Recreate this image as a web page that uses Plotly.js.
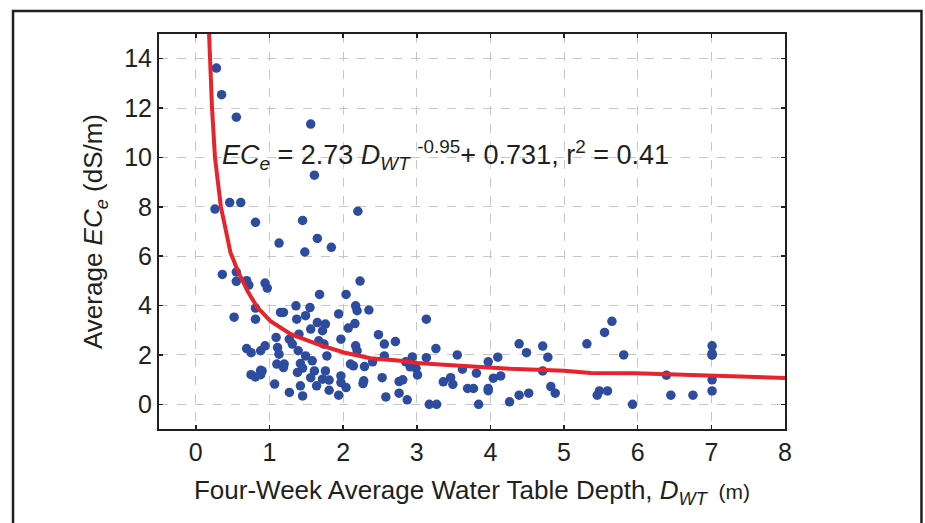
<!DOCTYPE html>
<html>
<head>
<meta charset="utf-8">
<script src="https://cdn.plot.ly/plotly-3.0.1.min.js"></script>
<style>
  html, body { margin: 0; padding: 0; background: #ffffff; }
  #graph { width: 925px; height: 523px; }
</style>
</head>
<body>
<div id="graph"></div>
<script>
"use strict";

// --- measured points (water table depth, m / ECe, dS/m) ---
const derinlikX = [
    0.28, 0.35, 0.55, 1.56, 1.61, 0.26, 0.46, 0.61, 0.81, 1.45, 2.20,
    1.13, 1.65, 1.48, 1.84,
    0.36, 0.55, 0.55, 0.69, 0.72, 0.94, 0.97, 2.23, 1.68, 2.04,
    0.52, 0.81, 0.81,
    1.36, 1.15, 1.19, 1.55, 1.49, 1.37, 1.65, 1.76, 1.56, 1.72, 1.94, 2.17, 2.19, 2.35, 2.16, 2.07, 2.48, 2.56,
    1.09, 1.27, 1.40, 1.31, 0.94, 1.11, 1.13, 1.39, 1.49, 1.67, 1.74, 1.97, 2.17, 2.19, 1.78,
    1.10, 1.20, 1.19, 1.42, 1.45, 1.58, 2.10, 2.14, 2.29, 2.56, 0.90, 1.38, 1.61, 1.56, 1.72, 1.81,
    1.97, 1.97, 1.76, 2.28, 1.07, 1.42, 1.64, 1.27, 1.45, 1.81, 1.94, 2.04, 2.58,
    0.69, 0.75, 0.88, 0.75, 0.81, 0.88, 0.88, 2.53, 2.27,
    3.13, 2.71, 3.26, 3.55, 4.39, 4.49, 4.71, 4.78, 5.31, 2.40, 2.85, 2.94, 2.91, 2.99, 3.01, 3.13,
    3.62, 3.81, 3.97, 4.10, 4.04, 4.14, 4.71, 2.76, 2.81, 2.76, 2.87, 3.36, 3.46, 3.49, 3.69, 3.77,
    3.97, 3.97, 3.17, 3.27, 3.84, 4.26, 4.39, 4.52, 4.82, 4.88,
    5.55, 5.65, 5.81, 5.93, 5.45, 5.48, 5.59, 6.39, 6.45, 6.75, 7.01, 7.01, 7.01, 7.01, 7.01
];
const ecDegerY = [
    13.62, 12.54, 11.63, 11.35, 9.28, 7.91, 8.17, 8.17, 7.37, 7.45, 7.82,
    6.53, 6.72, 6.17, 6.36,
    5.26, 5.36, 4.98, 5.01, 4.83, 4.91, 4.71, 4.99, 4.45, 4.45,
    3.53, 3.90, 3.45,
    3.99, 3.72, 3.72, 3.92, 3.59, 3.45, 3.31, 3.25, 3.05, 2.98, 3.66, 3.99, 3.79, 3.82, 3.27, 3.09, 2.82, 2.44,
    2.71, 2.64, 2.84, 2.44, 2.37, 2.30, 2.03, 2.17, 1.96, 2.57, 2.44, 2.64, 2.37, 2.17, 1.96,
    1.63, 1.63, 1.49, 1.65, 1.47, 1.76, 1.63, 1.56, 1.53, 1.96, 1.35, 1.29, 1.35, 1.08, 1.02, 0.98,
    1.15, 0.88, 1.35, 0.95, 0.82, 0.75, 0.75, 0.48, 0.34, 0.57, 0.37, 0.68, 0.30,
    2.26, 2.09, 2.17, 1.20, 1.11, 1.38, 1.20, 1.08, 0.84,
    3.45, 2.54, 2.26, 2.00, 2.45, 2.09, 2.36, 1.91, 2.45, 1.72, 1.72, 1.92, 1.52, 1.46, 1.19, 1.89,
    1.42, 1.26, 1.72, 1.91, 1.06, 1.15, 1.35, 0.92, 0.99, 0.45, 0.18, 0.91, 1.08, 0.81, 0.64, 0.64,
    0.64, 0.55, 0.00, 0.00, 0.00, 0.10, 0.37, 0.45, 0.72, 0.45,
    2.91, 3.36, 2.00, 0.00, 0.37, 0.54, 0.54, 1.18, 0.37, 0.37, 2.37, 2.06, 1.99, 0.99, 0.54
];

// --- fitted curve ---
const egriX = [0.18, 0.19, 0.22, 0.26, 0.34, 0.38, 0.47, 0.57, 0.70, 0.83, 1.01, 1.29, 1.65, 2.01, 2.37, 2.78, 3.01, 3.37, 3.73, 4.27, 5.00, 5.36, 5.97, 7.39, 8.00];
const egriY = [15.0, 14.0, 12.0, 10.0, 8.0, 7.44, 6.15, 5.41, 4.60, 3.95, 3.38, 2.84, 2.44, 2.10, 1.87, 1.76, 1.67, 1.60, 1.52, 1.44, 1.36, 1.27, 1.26, 1.15, 1.07];

const xTikler = [0, 1, 2, 3, 4, 5, 6, 7, 8];
const yTikler = [0, 2, 4, 6, 8, 10, 12, 14];

const denklemMetni = '<i>EC</i><sub><i>e</i></sub> = 2.73 <i>D</i><sub><i>WT</i></sub> <sup>-0.95</sup>+ 0.731, r<sup>2</sup> = 0.41';

function grafigiCiz(divId) {
    const graphDiv = document.getElementById(divId);
    if (!graphDiv) {
        console.error(`Grafik div'i bulunamadı: ${divId}`);
        return;
    }
    const metinRengi = '#231f20';
    const fontAilesi = '"Liberation Sans", Arial, sans-serif';

    const traces = [
        {
            x: derinlikX, y: ecDegerY, mode: 'markers', type: 'scatter',
            marker: { color: '#2e4c9f', size: 9.5, line: { width: 0 } },
            showlegend: false, hoverinfo: 'skip'
        },
        {
            x: egriX, y: egriY, mode: 'lines', type: 'scatter',
            line: { color: '#e8232b', width: 4 },
            showlegend: false, hoverinfo: 'skip'
        }
    ];

    const eksenOrtak = {
        showline: true, linecolor: metinRengi, linewidth: 2, mirror: 'ticks',
        ticks: 'inside', ticklen: 4, tickwidth: 1.5, tickcolor: metinRengi,
        showgrid: true, gridcolor: '#c6c6c6', griddash: 'dash', gridwidth: 1,
        zeroline: false,
        tickfont: { family: fontAilesi, size: 25, color: metinRengi }
    };

    const layout = {
        width: 925, height: 523,
        margin: { l: 159, r: 140, t: 34, b: 94 },
        paper_bgcolor: '#ffffff', plot_bgcolor: '#ffffff',
        font: { family: fontAilesi, color: metinRengi },
        xaxis: Object.assign({}, eksenOrtak, {
            range: [-0.5, 8], tickvals: xTikler, ticktext: xTikler.map(String),
            title: {
                text: 'Four-Week Average Water Table Depth, <i>D</i><sub><i>WT</i></sub><span style="font-size:21px">  (m)</span>',
                font: { family: fontAilesi, size: 26, color: metinRengi },
                standoff: 16
            }
        }),
        yaxis: Object.assign({}, eksenOrtak, {
            range: [-1, 15], tickvals: yTikler, ticktext: yTikler.map(String),
            title: {
                text: 'Average <i>EC</i><sub><i>e</i></sub> (dS/m)',
                font: { family: fontAilesi, size: 26, color: metinRengi },
                standoff: 14
            }
        }),
        annotations: [{
            x: 0.33, y: 10.1, xref: 'x', yref: 'y', xanchor: 'left', yanchor: 'middle',
            text: denklemMetni, showarrow: false,
            font: { family: fontAilesi, size: 27, color: metinRengi }
        }],
        shapes: [{
            // outer figure frame
            type: 'rect', xref: 'paper', yref: 'paper',
            x0: -0.2332, x1: 1.218, y0: -0.4, y1: 1.0582,
            line: { color: metinRengi, width: 2.5 }, fillcolor: 'rgba(0,0,0,0)'
        }]
    };

    Plotly.newPlot(divId, traces, layout, { staticPlot: true }).catch(err => {
        console.error("Grafik çizilirken hata:", err);
    });
}

grafigiCiz('graph');
</script>
</body>
</html>
